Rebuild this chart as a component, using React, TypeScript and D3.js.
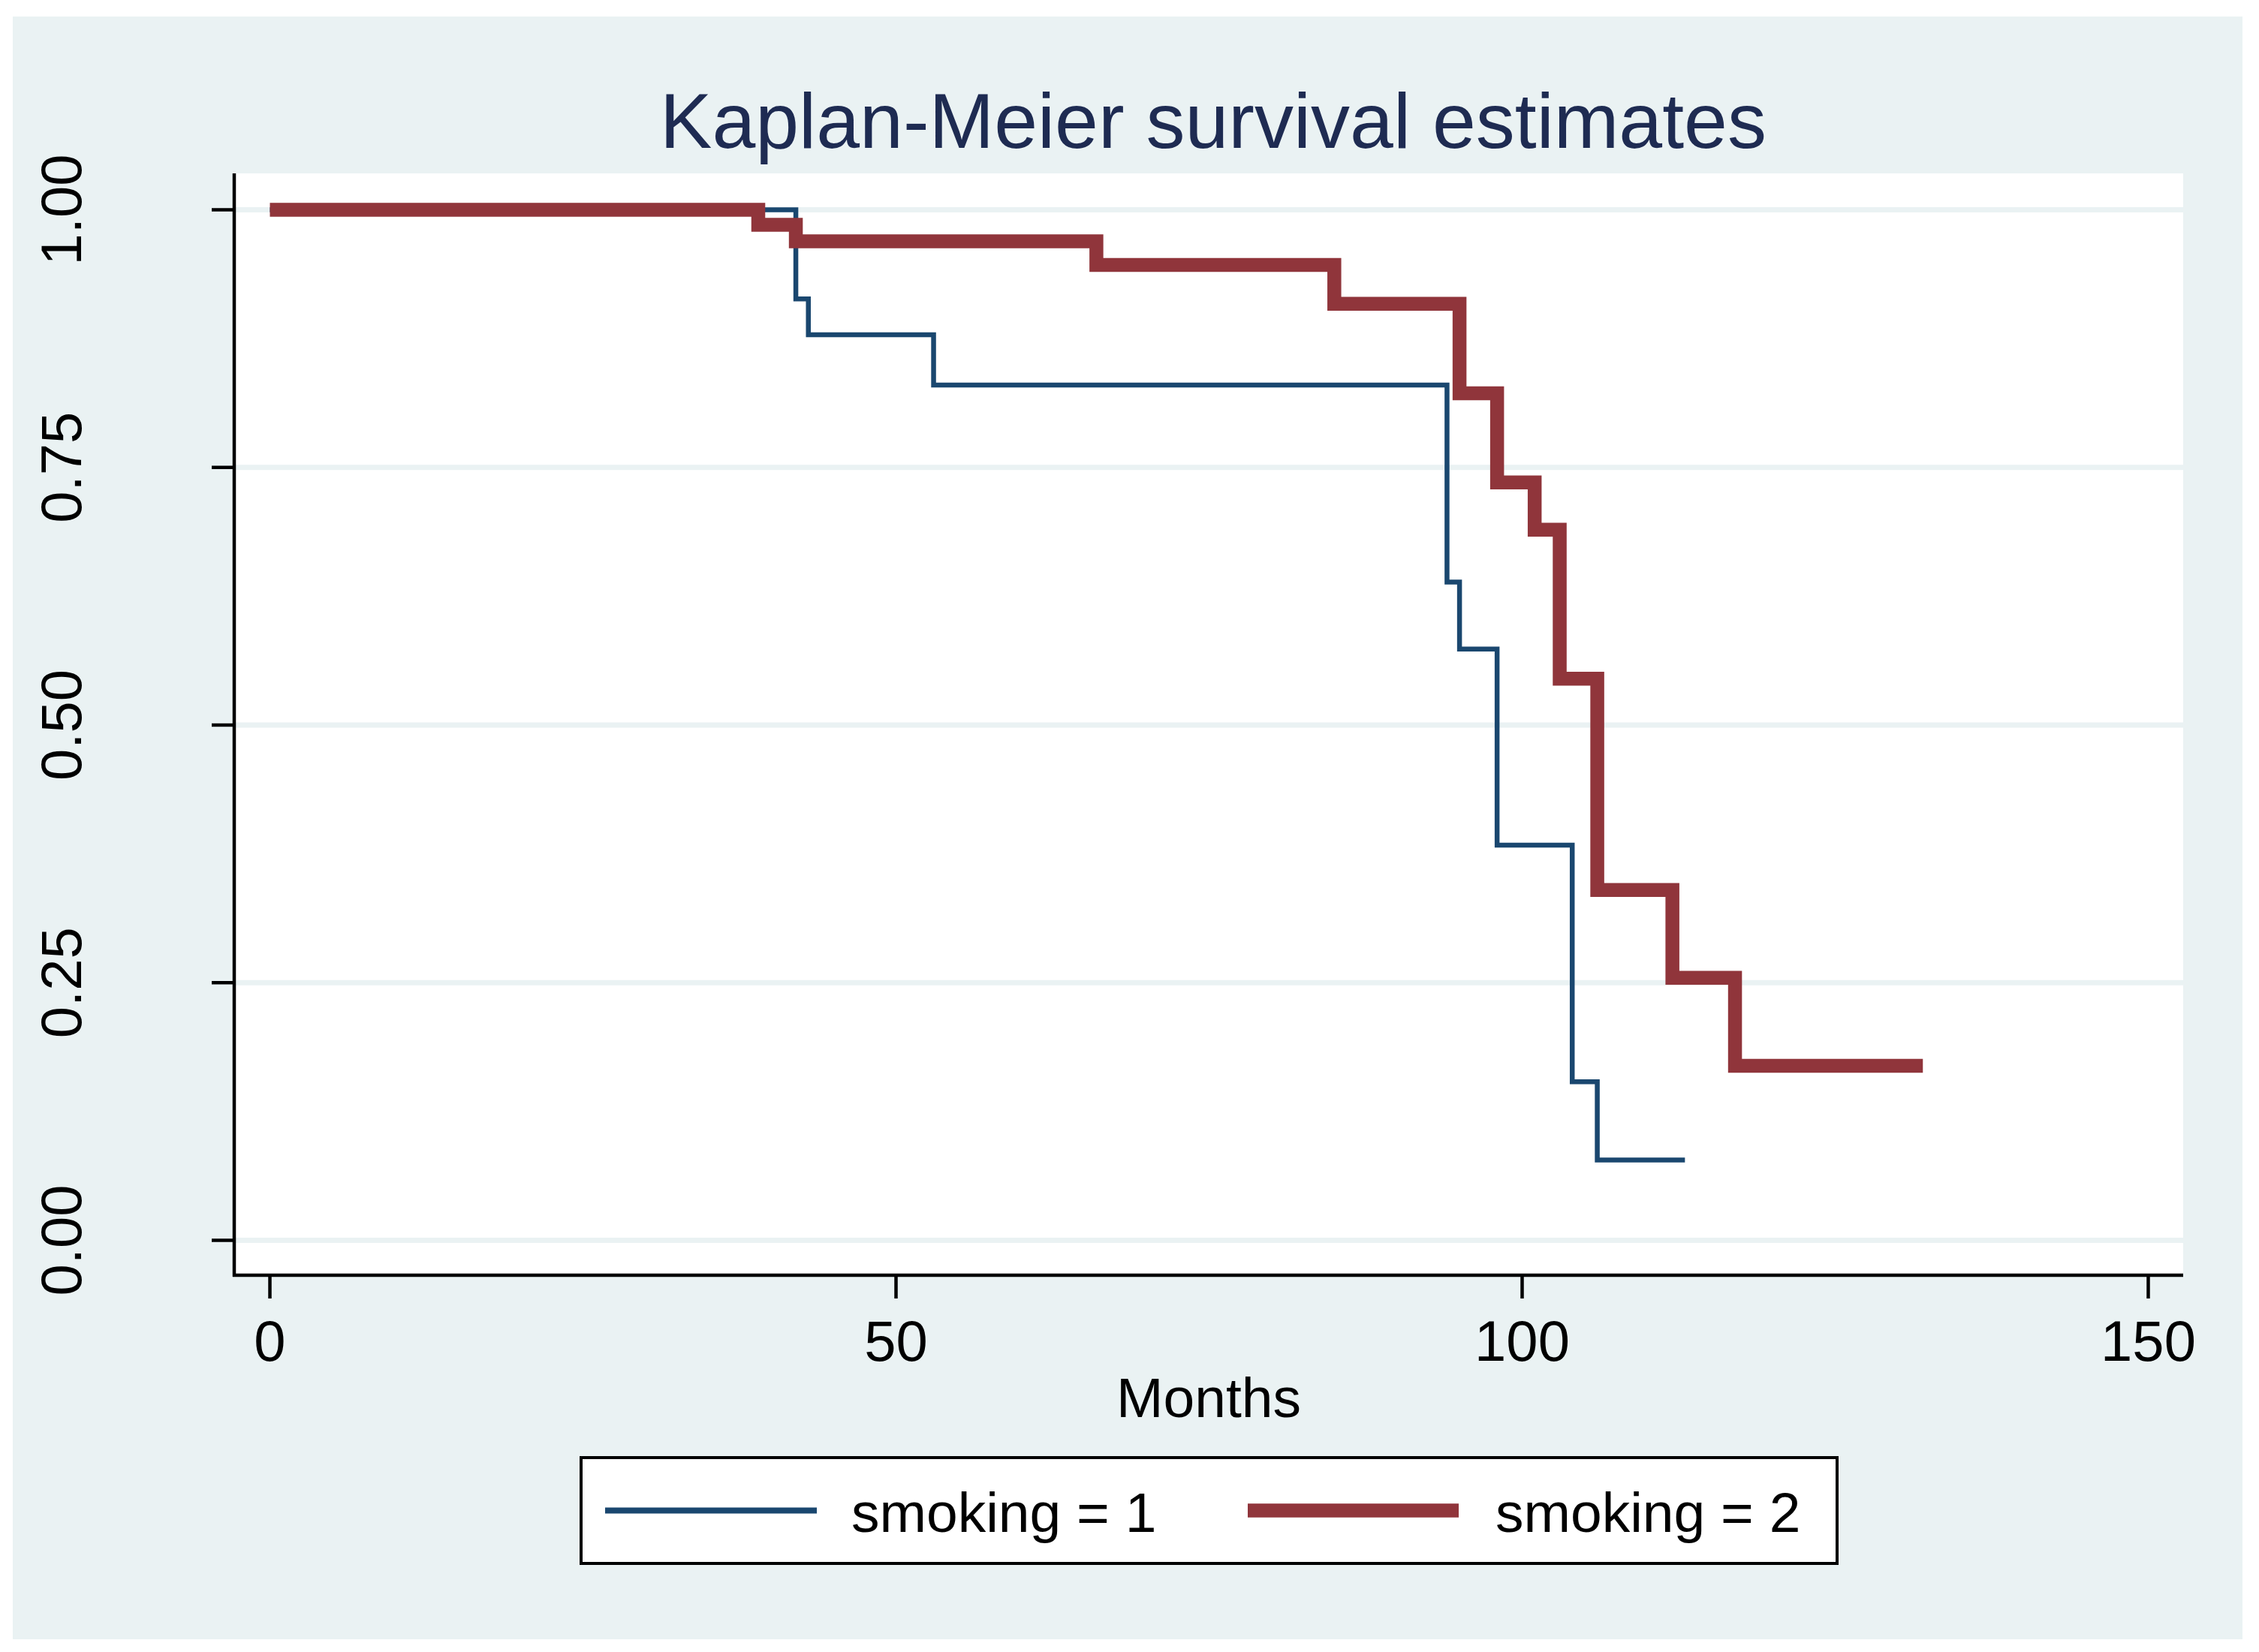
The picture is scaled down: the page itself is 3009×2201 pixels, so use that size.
import React from 'react';
import * as d3 from 'd3';

// Kaplan-Meier step data (months, survival)
const group1Times = [0, 42, 43, 53, 94, 95, 98, 104, 106, 113];
const group1Surv = [1, 0.9136, 0.8788, 0.830, 0.6388, 0.5738, 0.3835, 0.1539, 0.0779, 0.0779];

const group2Times = [0, 39, 42, 66, 85, 95, 98, 101, 103, 106, 112, 117, 132];
const group2Surv = [1, 0.9855, 0.9694, 0.9464, 0.9087, 0.8219, 0.7354, 0.6895, 0.5449, 0.34, 0.2547, 0.1694, 0.1694];

const xTicks = [0, 50, 100, 150];
const yTicks = [0, 0.25, 0.5, 0.75, 1];
const legendLabels = ['smoking = 1', 'smoking = 2'];

const W = 3009;
const H = 2201;
const FONT = '"Liberation Sans", Arial, Helvetica, sans-serif';
const BG = '#eaf2f3';
const NAVY = '#1a476f';
const MAROON = '#90353b';

const App: React.FC = () => {
  const x = d3.scaleLinear().domain([0, 150]).range([359.5, 2861.5]);
  const y = d3.scaleLinear().domain([0, 1]).range([1652.5, 279.5]);

  // plot region (white area)
  const left = 312;
  const right = 2908;
  const top = 231;
  const bottom = 1699;

  const line = d3
    .line<[number, number]>()
    .x((d) => x(d[0]))
    .y((d) => y(d[1]))
    .curve(d3.curveStepAfter);

  const s1 = group1Times.map((t, i) => [t, group1Surv[i]] as [number, number]);
  const s2 = group2Times.map((t, i) => [t, group2Surv[i]] as [number, number]);

  const fmtY = d3.format('.2f');

  return (
    <svg
      width={W}
      height={H}
      style={{ position: 'absolute', left: 0, top: 0, display: 'block' }}
      fontFamily={FONT}
    >
      <rect x={0} y={0} width={W} height={H} fill="#ffffff" />
      <rect x={17} y={22} width={2970} height={2162} fill={BG} />

      {/* title */}
      <text x={1616} y={197} fontSize={104} fill="#1e2b52" textAnchor="middle">
        Kaplan-Meier survival estimates
      </text>

      {/* plot region */}
      <rect x={left} y={top} width={right - left} height={bottom - top} fill="#ffffff" />

      {/* gridlines */}
      {yTicks.map((t) => (
        <line key={'g' + t} x1={left} x2={right} y1={y(t)} y2={y(t)} stroke={BG} strokeWidth={7} />
      ))}

      {/* survival curves */}
      <path d={line(s1) || ''} fill="none" stroke={NAVY} strokeWidth={6.5} strokeLinejoin="miter" />
      <path d={line(s2) || ''} fill="none" stroke={MAROON} strokeWidth={18.5} strokeLinejoin="miter" />

      {/* y axis */}
      <line x1={left} x2={left} y1={top} y2={bottom + 2} stroke="#000" strokeWidth={4.5} />
      {yTicks.map((t) => (
        <g key={'y' + t}>
          <line x1={left - 30} x2={left} y1={y(t)} y2={y(t)} stroke="#000" strokeWidth={4.5} />
          <text
            transform={`translate(108,${y(t)}) rotate(-90)`}
            fontSize={76}
            textAnchor="middle"
            fill="#000"
          >
            {fmtY(t)}
          </text>
        </g>
      ))}

      {/* x axis */}
      <line x1={left - 2} x2={right} y1={bottom} y2={bottom} stroke="#000" strokeWidth={4.5} />
      {xTicks.map((t) => (
        <g key={'x' + t}>
          <line x1={x(t)} x2={x(t)} y1={bottom} y2={bottom + 31} stroke="#000" strokeWidth={4.5} />
          <text x={x(t)} y={1813} fontSize={76} textAnchor="middle" fill="#000">
            {t}
          </text>
        </g>
      ))}
      <text x={1610} y={1888} fontSize={75} textAnchor="middle" fill="#000">
        Months
      </text>

      {/* legend */}
      <rect x={774} y={1942} width={1673} height={141} fill="#ffffff" stroke="#000" strokeWidth={4} />
      <line x1={806} x2={1088} y1={2012.5} y2={2012.5} stroke={NAVY} strokeWidth={8} />
      <text x={1134} y={2041} fontSize={75} fill="#000">
        {legendLabels[0]}
      </text>
      <line x1={1662} x2={1943} y1={2012.5} y2={2012.5} stroke={MAROON} strokeWidth={18.5} />
      <text x={1992} y={2041} fontSize={75} fill="#000">
        {legendLabels[1]}
      </text>
    </svg>
  );
};

export default App;
